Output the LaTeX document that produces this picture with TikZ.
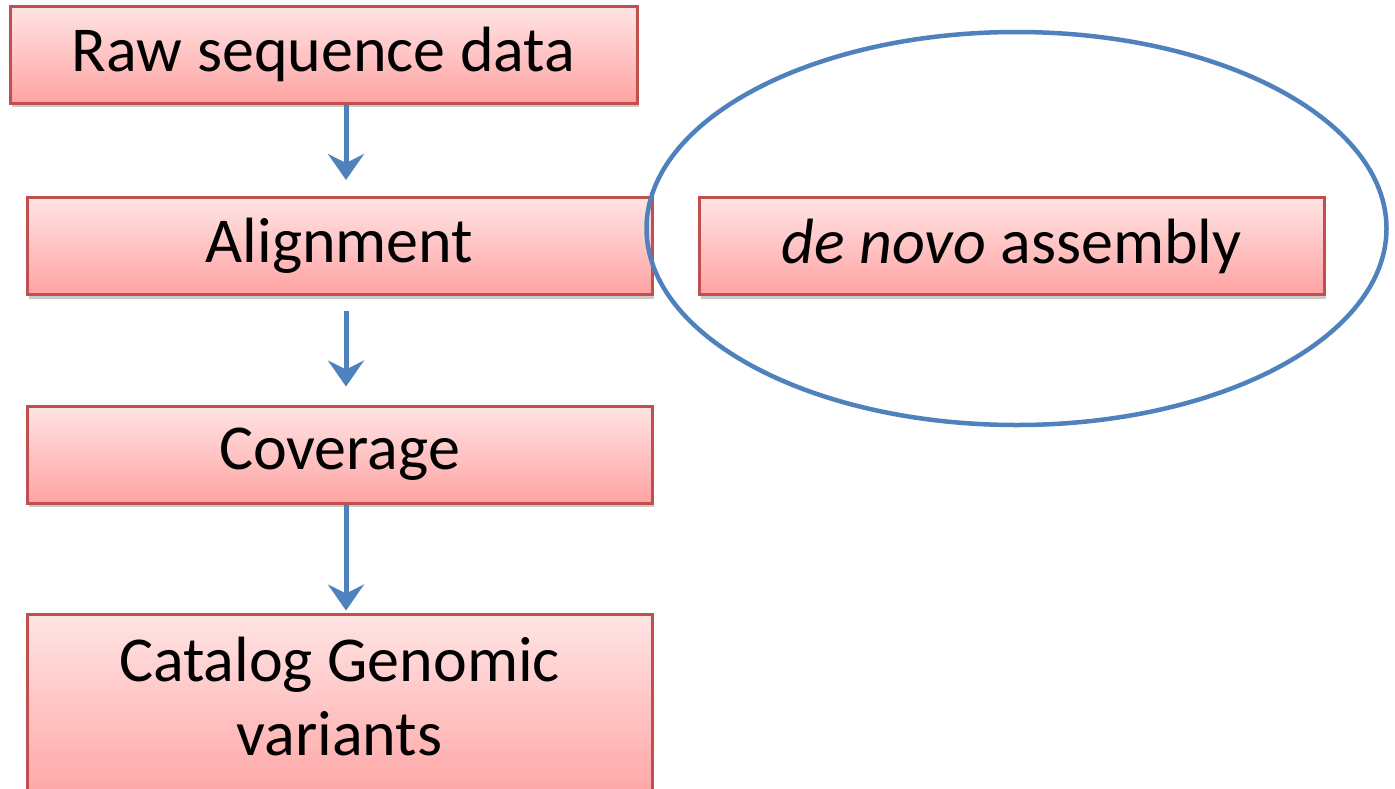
\documentclass[tikz,border=0pt]{standalone}
\usepackage{fontspec}
\setmainfont{Carlito}
\usetikzlibrary{arrows.meta,shadows,calc,shapes.geometric}
\definecolor{boxtop}{HTML}{FFE4E4}
\definecolor{boxbot}{HTML}{FFA3A3}
\definecolor{boxline}{HTML}{C0504D}
\definecolor{arrblue}{HTML}{4F81BD}
\tikzset{
  stepbox/.style={draw=boxline, line width=3pt, top color=boxtop, bottom color=boxbot,
    minimum width=625pt, minimum height=97pt, inner sep=0pt, align=center,
    font=\fontsize{64}{70}\selectfont,
    drop shadow={opacity=0.35, shadow xshift=2pt, shadow yshift=-4pt, fill=black!60}},
  arr/.style={draw=arrblue, line width=5pt, -{Stealth[length=26pt, width=36pt, inset=9pt]}}
}
\begin{document}
\begin{tikzpicture}[x=1pt,y=-1pt]
\useasboundingbox (0,0) rectangle (1395,788);
\clip (0,0) rectangle (1395,788);
\fill[white] (0,0) rectangle (1395,788);
\coordinate (ax) at (346,0);
\node[stepbox, minimum width=627pt] (b1) at (323.5,54.5) {Raw sequence data};
\node[stepbox] (b2) at (339.5,246) {Alignment};
\node[stepbox] (b3) at (339.5,454.5) {Coverage};
\node[stepbox, minimum height=190pt, text depth=26pt] (b4) at (339.5,709) {Catalog Genomic\\[4pt]variants};
\node[stepbox] (b5) at (1011.5,246) {\textit{de novo} assembly};
\node[draw=arrblue, line width=4.5pt, ellipse, minimum width=740pt, minimum height=393pt, inner sep=0pt] (ell) at (1016.5,228.5) {};
\draw[arr, shorten >=16pt] (b1.south -| ax) -- (b2.north -| ax);
\draw[arr, shorten <=15pt, shorten >=18pt] (b2.south -| ax) -- (b3.north -| ax);
\draw[arr, shorten >=2pt] (b3.south -| ax) -- (b4.north -| ax);
\end{tikzpicture}
\end{document}
